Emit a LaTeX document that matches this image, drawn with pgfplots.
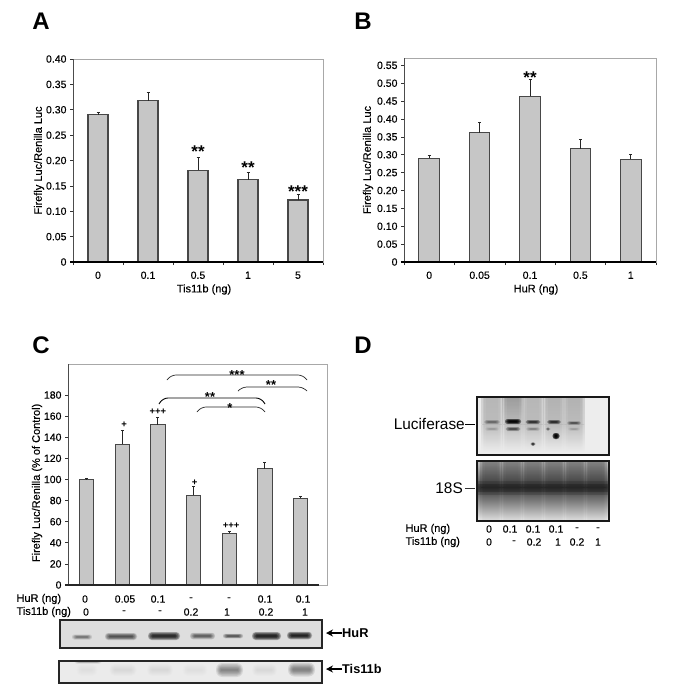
\documentclass[border=0pt]{standalone}
\usepackage{pgfplots}
\pgfplotsset{compat=1.18}
\usetikzlibrary{arrows.meta}
\usepackage{fontspec}
\setmainfont{Liberation Sans}
\newfontface\semi{Liberation Sans}[FakeBold=0.22]
\definecolor{barfill}{HTML}{C6C6C6}
\definecolor{frameg}{HTML}{A8A8A8}
\newcommand\tk{\semi\fontsize{10.5}{12}\selectfont}
\newcommand\lb{\semi\fontsize{11}{13}\selectfont}
\newcommand\stf{\fontsize{17}{17}\selectfont\bfseries}
\newcommand\plusf{\fontsize{9.5}{10}\selectfont\bfseries}
\newcommand\letterf{\fontsize{24}{24}\selectfont\bfseries}
% soft-edged blot band: centre x, centre y, width, height, opacity of each of 6 layers
\newcommand\band[5]{%
  \foreach \k in {0,1,2,3,4,5}{
    \pgfmathsetmacro\hw{#3/2-\k*0.9}
    \pgfmathsetmacro\hh{#4/2*(1-\k/6)}
    \fill[black,opacity=#5,rounded corners=\hh pt*0.9] (#1-\hw,#2-\hh) rectangle (#1+\hw,#2+\hh);
  }}
\pgfplotsset{
  panel/.style={
    scale only axis, ybar, ymin=0,
    axis line style={frameg,line width=0.8pt},
    tick align=outside, ytick pos=left, xtick pos=bottom,
    major tick length=3pt, minor tick length=3pt,
    ytick style={black!80,line width=0.6pt},
    major x tick style={draw=none},
    minor x tick style={draw=black!80,line width=0.6pt},
    tick label style={font=\tk},
    every axis y label/.style={font=\lb,at={(rel axis cs:0,0.5)},rotate=90,anchor=center,yshift=34pt},
    every axis x label/.style={font=\lb,at={(rel axis cs:0.5,0)},anchor=center,yshift=-27.5pt,xshift=6pt},
    clip=false,
    xticklabel style={yshift=-3pt},
  },
  bars/.style={
    draw=black!72, line width=1.2pt, fill=barfill,
    error bars/y dir=plus, error bars/y explicit,
    error bars/error bar style={black!85,line width=1pt},
    error bars/error mark options={rotate=90,mark size=1.5pt,black!85,line width=1pt},
  },
}
\begin{document}
\begin{tikzpicture}[x=1pt,y=-1pt]
\path[use as bounding box] (0,0) rectangle (672,698);
\fill[white] (0,0) rectangle (672,698);

% ---------- A
\node[font=\letterf] at (41,21) {A};
\begin{axis}[panel, at={(73pt,-262pt)}, anchor=south west,
  width=250pt, height=203pt, bar width=20pt,
  xmin=-0.5, xmax=4.5, ymax=0.40,
  xtick={0,1,2,3,4}, xticklabels={0,0.1,0.5,1,5},
  minor xtick={-0.5,0.5,1.5,2.5,3.5,4.5},
  ytick={0,0.05,0.10,0.15,0.20,0.25,0.30,0.35,0.40},
  yticklabels={0,0.05,0.10,0.15,0.20,0.25,0.30,0.35,0.40},
  ylabel={Firefly Luc/Renilla Luc}, xlabel={Tis11b (ng)}]
\addplot[bars] table[x=x,y=y,y error=e] {
x y e
0 0.290 0.005
1 0.318 0.016
2 0.181 0.024
3 0.162 0.014
4 0.122 0.011
};
\draw[black!70,line width=0.9pt] (rel axis cs:0,0) -- (rel axis cs:0,1);
\draw[black,line width=1.2pt] (rel axis cs:-0.012,0) -- (rel axis cs:1,0);
\node[font=\stf,anchor=base] at (axis cs:2,0.205) {**};
\node[font=\stf,anchor=base] at (axis cs:3,0.175) {**};
\node[font=\stf,anchor=base] at (axis cs:4,0.128) {***};
\end{axis}

% ---------- B
\node[font=\letterf] at (363,21) {B};
\begin{axis}[panel, at={(404pt,-262pt)}, anchor=south west,
  width=252pt, height=204pt, bar width=20.5pt,
  xmin=-0.5, xmax=4.5, ymax=0.5705,
  xtick={0,1,2,3,4}, xticklabels={0,0.05,0.1,0.5,1},
  minor xtick={-0.5,0.5,1.5,2.5,3.5,4.5},
  ytick={0,0.05,0.10,0.15,0.20,0.25,0.30,0.35,0.40,0.45,0.50,0.55},
  yticklabels={0,0.05,0.10,0.15,0.20,0.25,0.30,0.35,0.40,0.45,0.50,0.55},
  every axis y label/.append style={yshift=2pt},
  ylabel={Firefly Luc/Renilla Luc}, xlabel={HuR (ng)}]
\addplot[bars, line width=1pt] table[x=x,y=y,y error=e] {
x y e
0 0.290 0.008
1 0.362 0.028
2 0.463 0.047
3 0.317 0.026
4 0.287 0.014
};
\draw[black!70,line width=0.9pt] (rel axis cs:0,0) -- (rel axis cs:0,1);
\draw[black,line width=1.2pt] (rel axis cs:-0.012,0) -- (rel axis cs:1,0);
\node[font=\stf,anchor=base] at (axis cs:2,0.50) {**};
\end{axis}

% ---------- C
\node[font=\letterf] at (41,345) {C};
\begin{axis}[panel, at={(68pt,-585pt)}, anchor=south west,
  width=259pt, height=221pt, bar width=14.5pt,
  xmin=-0.523, xmax=6.74, ymin=0, ymax=209.4,
  xtick=\empty,
  ytick={0,20,40,60,80,100,120,140,160,180},
  yticklabels={0,20,40,60,80,100,120,140,160,180},
  every axis y label/.style={font=\lb,at={(rel axis cs:0,0.462)},rotate=90,anchor=center,yshift=31pt},
  ylabel={Firefly Luc/Renilla (\% of Control)}]
\addplot[bars, line width=1pt] table[x=x,y=y,y error=e] {
x y e
0 100 0.6
1 133.5 12.5
2 152 7
3 85 8
4 49 2
5 110 6
6 82 2
};
\draw[black!70,line width=0.9pt] (rel axis cs:0,0) -- (rel axis cs:0,1);
\draw[black!85,line width=1.1pt] (rel axis cs:-0.012,0) -- (axis cs:6.52,0);
\node[font=\plusf] at (axis cs:1.05,151.6) {+};
\node[font=\plusf] at (axis cs:2,164) {+++};
\node[font=\plusf] at (axis cs:3.03,96.6) {+};
\node[font=\plusf] at (axis cs:4.05,55.9) {+++};
\end{axis}

% brackets of panel C
\draw[black!85,line width=0.7pt,rounded corners=5pt] (167,380) -- (171,375) -- (303,375) -- (307,380);
\draw[black!85,line width=0.7pt,rounded corners=5pt] (238,391) -- (242,387) -- (303,387) -- (307,391);
\draw[black,line width=0.9pt,rounded corners=5pt] (159,404) -- (163,398) -- (261,398) -- (265,404);
\draw[black!85,line width=0.7pt,rounded corners=5pt] (197,412) -- (201,407) -- (261,407) -- (265,412);
\begin{scope}[every node/.style={font=\fontsize{13}{13}\selectfont\bfseries,anchor=base}]
\node at (237,379) {***};
\node at (271,389) {**};
\node at (210,401) {**};
\node at (230,412) {*};
\end{scope}

% dose rows of panel C
\begin{scope}[every node/.style={font=\tk,anchor=center}]
\node[anchor=west,font=\lb] at (13,599) {HuR (ng)};
\node[anchor=west,font=\lb] at (13,612) {Tis11b (ng)};
\node at (85,599) {0}; \node at (125,599) {0.05}; \node at (158,599) {0.1};
\node at (191,599) {-}; \node at (229,599) {-}; \node at (265,599) {0.1}; \node at (303,599) {0.1};
\node at (86,612) {0}; \node at (124,612) {-}; \node at (160,612) {-};
\node at (191,612) {0.2}; \node at (227,612) {1}; \node at (266,612) {0.2}; \node at (305,612) {1};
\end{scope}

% HuR blot
\fill[black!13] (60,620) rectangle (322,648);
\band{82}{637}{20}{5}{0.10}
\band{121}{636.5}{32}{7}{0.15}
\band{164}{636}{32}{8}{0.24}
\band{202.5}{636}{25}{6.5}{0.13}
\band{233}{636}{20}{4.5}{0.15}
\band{266.5}{636}{29}{8}{0.26}
\band{299.5}{635.5}{25}{7.5}{0.26}
\draw[black!85,line width=1.2pt] (60,620) rectangle (322,648);
\draw[-{Stealth[length=7pt,width=7pt]},black,line width=1.3pt] (342,633) -- (326,633);
\node[font=\fontsize{12.8}{13}\selectfont\bfseries,anchor=west,inner sep=0pt] at (342,633) {HuR};

% Tis11b blot
\fill[black!8] (59,661) rectangle (322,683);
\band{88}{662}{27}{3}{0.05}
\band{87}{670}{21}{12}{0.006}
\band{123}{670}{27}{12}{0.012}
\band{160}{670}{26}{12}{0.01}
\band{195}{670}{25}{12}{0.006}
\band{229.5}{670}{27}{14}{0.085}
\band{264.5}{670}{25}{12}{0.012}
\band{301.5}{669.5}{27}{14}{0.09}
\draw[black!85,line width=1.2pt] (59,661) rectangle (322,683);
\draw[-{Stealth[length=7pt,width=7pt]},black,line width=1.3pt] (342,669) -- (326,669);
\node[font=\fontsize{12.7}{13}\selectfont\bfseries,anchor=west,inner sep=0pt] at (342,669) {Tis11b};

% ---------- D
\node[font=\letterf] at (363,345) {D};
\node[anchor=east,font=\fontsize{15.4}{16}\selectfont,inner sep=0pt] at (465,424) {Luciferase};
\draw[black,line width=1pt] (465,424.5) -- (475,424.5);
\node[anchor=east,font=\fontsize{15.4}{16}\selectfont,inner sep=0pt] at (463,488) {18S};
\draw[black!80,line width=0.8pt] (465,488) -- (475,488);

% Luciferase blot
\fill[black!7] (477,397) rectangle (609,455);
\foreach \x/\top in {492/30,513/42,533/30,554/32,574/32}{
  \foreach \w in {10.5,9,7.5,6}{
    \shade[opacity=0.45,top color=black!\top,bottom color=black!28] (\x-\w,397) rectangle (\x+\w,424);
    \shade[opacity=0.45,top color=black!28,bottom color=black!7] (\x-\w,424) rectangle (\x+\w,452);
  }
}
\band{492}{422}{16}{4}{0.10}
\band{513}{421.5}{16}{5}{0.42}
\band{533}{422}{15}{4}{0.22}
\band{554}{422}{14}{4}{0.24}
\band{574}{423}{14}{3.5}{0.14}
\band{492}{429}{14}{3.5}{0.04}
\band{513}{429}{15}{4}{0.16}
\band{533}{429}{14}{3.5}{0.07}
\band{548}{429}{4}{3.5}{0.15}
\band{574}{429}{12}{3}{0.04}
\band{556}{436}{7}{6}{0.6}
\band{533}{444}{5}{3.5}{0.3}
\draw[black!90,line width=1.3pt] (477,397) rectangle (609,455);

% 18S blot
\shade[top color=black!22,bottom color=black!70] (477,461) rectangle (609,487);
\shade[top color=black!70,middle color=black!35,bottom color=black!5] (477,487) rectangle (609,521);
\foreach \x in {491,512,533,554,575,596}{
  \foreach \w in {10.5,9,7.5,6}{
    \shade[opacity=0.5,top color=black!50,bottom color=black!78] (\x-\w,461) rectangle (\x+\w,487);
    \shade[opacity=0.5,top color=black!78,middle color=black!62,bottom color=black!12] (\x-\w,487) rectangle (\x+\w,521);
  }
}
\fill[black,opacity=0.2] (477,483.5) rectangle (609,491.5);
\fill[black,opacity=0.15] (477,481) rectangle (609,495);
\draw[black!90,line width=1.3pt] (477,461) rectangle (609,521);

% dose rows of panel D
\begin{scope}[every node/.style={font=\tk,anchor=center}]
\node[anchor=west,font=\lb] at (402,529) {HuR (ng)};
\node[anchor=west,font=\lb] at (402,542) {Tis11b (ng)};
\node at (489,529) {0}; \node at (510,529) {0.1}; \node at (533,529) {0.1};
\node at (556,529) {0.1}; \node at (577,529) {-}; \node at (598,529) {-};
\node at (489,542) {0}; \node at (514,542) {-}; \node at (534,542) {0.2};
\node at (558,542) {1}; \node at (577,542) {0.2}; \node at (598,542) {1};
\end{scope}
\end{tikzpicture}
\end{document}
